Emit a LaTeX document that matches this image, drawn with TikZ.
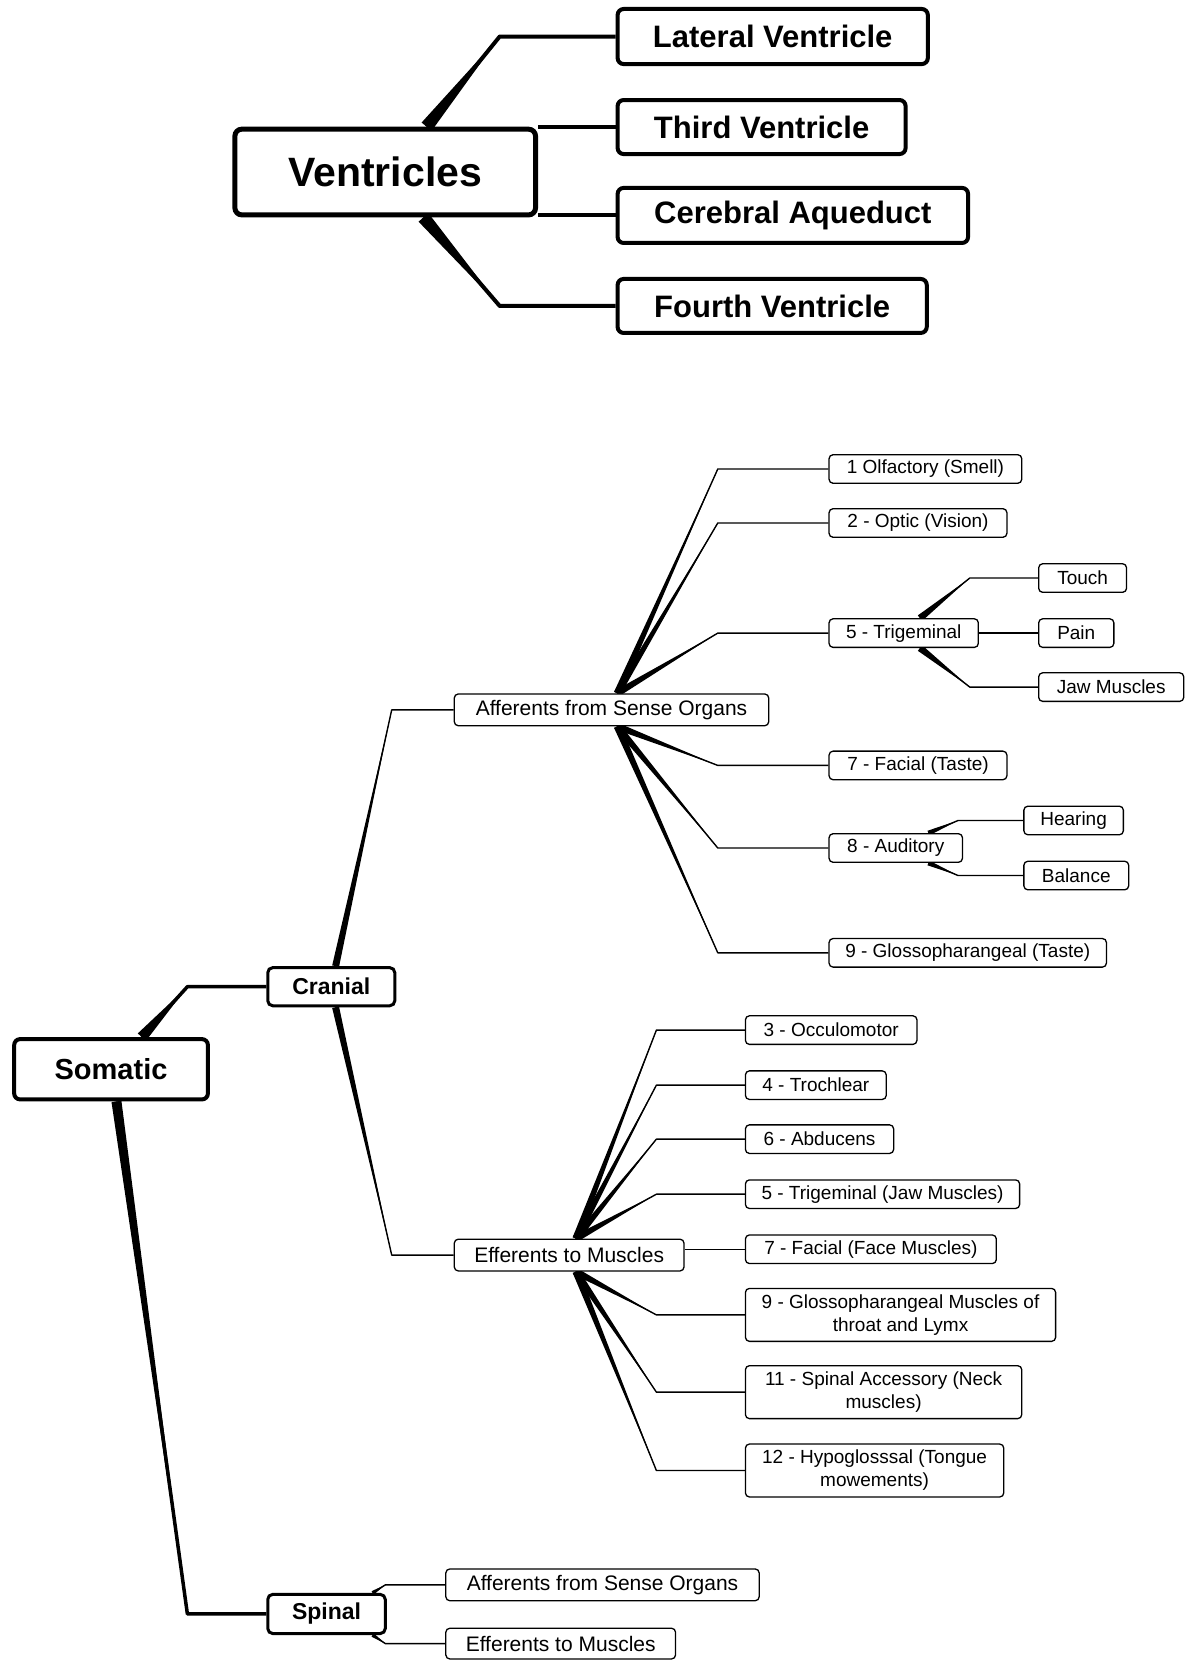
\documentclass[tikz,border=0pt]{standalone}
\usepackage{fontspec}
\setmainfont{Liberation Sans}
\usetikzlibrary{calc}
\newdimen\pxu \pxu=1.0589pt
\pgfdeclarelayer{bg}
\pgfsetlayers{bg,main}
\newcommand\tbranch[5]{%
  \coordinate (tbS) at (#1);
  \coordinate (tbE) at (#2);
  \fill ($(tbS)!#4!90:(tbE)$) -- ($(tbS)!#4!-90:(tbE)$) -- (tbE) -- cycle;
  \draw[#5] (tbS) -- (tbE) -- (#3.west);}
\begin{document}
\begin{tikzpicture}[x=1.0589pt,y=-1.0589pt,
  sz/.style 2 args={minimum width=#1*\pxu, minimum height=#2*\pxu},
  bx/.style={draw, fill=white, inner sep=0pt, anchor=west, align=center},
  lvA/.style={bx, line width=5pt, rounded corners=7pt, font=\bfseries\fontsize{41}{46}\selectfont},
  lvB/.style={bx, line width=4pt, rounded corners=6pt, font=\bfseries\fontsize{31}{36}\selectfont},
  lvS/.style={bx, line width=4pt, rounded corners=6pt, font=\bfseries\fontsize{29}{34}\selectfont},
  lvC/.style={bx, line width=3pt, rounded corners=5pt, font=\bfseries\fontsize{23}{27}\selectfont},
  lvD/.style={bx, line width=1.3pt, rounded corners=4pt, font=\fontsize{21}{25}\selectfont},
  leaf/.style={bx, line width=1.3pt, rounded corners=4pt, font=\fontsize{19}{23}\selectfont},
  cA/.style={line width=4pt, line join=round},
  cS/.style={line width=3.5pt, line join=round},
  cT/.style={line width=1.4pt, line join=round},
]
\begin{pgfonlayer}{bg}
\fill[white] (0,0) rectangle (1121,1568);
\end{pgfonlayer}
\useasboundingbox (0,0) rectangle (1121,1568);

% ---------- Ventricles ----------
\node[lvA, sz={284}{81}] (ven) at (219.5,162.5) {Ventricles};
\node[lvB, sz={293}{52}] (lat) at (581.5,34.5) {Lateral Ventricle};
\node[lvB, sz={272}{51}] (third) at (581.5,120) {Third Ventricle};
\node[lvB, sz={331}{52}] (cer) at (581.5,203.5) {Cerebral Aqueduct};
\node[lvB, sz={292}{51}] (fourth) at (581.5,289) {Fourth Ventricle};

% ---------- Somatic ----------
\node[lvS, sz={183}{57}] (som) at (11.5,1010) {Somatic};
\node[lvC, sz={120}{36}] (cran) at (251.5,932) {Cranial};
\node[lvC, sz={111}{37}] (spin) at (251.5,1524.5) {Spinal};

\node[lvD, sz={297}{30}] (aff) at (428.5,670.5) {Afferents from Sense Organs};
\node[lvD, sz={217}{30}] (eff) at (428.5,1185.5) {Efferents to Muscles};

\node[leaf, sz={182}{27}] (a1) at (782.5,443) {1 Olfactory (Smell)};
\node[leaf, sz={168}{27}] (a2) at (782.5,494) {2 - Optic (Vision)};
\node[leaf, sz={141}{27}] (a5) at (782.5,598) {5 - Trigeminal};
\node[leaf, sz={168}{27}] (a7) at (782.5,723) {7 - Facial (Taste)};
\node[leaf, sz={126}{27}] (a8) at (782.5,801) {8 - Auditory};
\node[leaf, sz={262}{27}] (a9) at (782.5,900) {9 - Glossopharangeal (Taste)};

\node[leaf, sz={83}{27}] (touch) at (980.5,546) {Touch};
\node[leaf, sz={71}{27}] (pain) at (980.5,598) {Pain};
\node[leaf, sz={137}{27}] (jaw) at (980.5,649) {Jaw Muscles};
\node[leaf, sz={94}{27}] (hear) at (966.5,775) {Hearing};
\node[leaf, sz={99}{27}] (bal) at (966.5,827) {Balance};

\node[leaf, sz={162}{27}] (e3) at (703.5,973) {3 - Occulomotor};
\node[leaf, sz={133}{27}] (e4) at (703.5,1025) {4 - Trochlear};
\node[leaf, sz={140}{27}] (e6) at (703.5,1076) {6 - Abducens};
\node[leaf, sz={259}{27}] (e5) at (703.5,1128) {5 - Trigeminal (Jaw Muscles)};
\node[leaf, sz={237}{27}] (e7) at (703.5,1180) {7 - Facial (Face Muscles)};
\node[leaf, sz={293}{50}] (e9) at (703.5,1242) {9 - Glossopharangeal Muscles of\\throat and Lymx};
\node[leaf, sz={261}{50}] (e11) at (703.5,1315) {11 - Spinal Accessory (Neck\\muscles)};
\node[leaf, sz={244}{50}] (e12) at (703.5,1389) {12 - Hypoglosssal (Tongue\\mowements)};

\node[lvD, sz={296}{30}] (s1) at (420.5,1497) {Afferents from Sense Organs};
\node[lvD, sz={217}{29}] (s2) at (420.5,1552.5) {Efferents to Muscles};

% ---------- connectors ----------
\begin{pgfonlayer}{bg}
\tbranch{403,0 |- ven.north}{472,0 |- lat.west}{lat}{6.5pt}{cA}
\draw[cA] (ven.east |- third.west) -- (third.west);
\draw[cA] (ven.east |- cer.west) -- (cer.west);
\tbranch{400,0 |- ven.south}{472,0 |- fourth.west}{fourth}{6.5pt}{cA}

\tbranch{134,0 |- som.north}{177,0 |- cran.west}{cran}{5.5pt}{cS}
\tbranch{110,0 |- som.south}{177,0 |- spin.west}{spin}{5pt}{cS}

\tbranch{317,0 |- cran.north}{370,0 |- aff.west}{aff}{3.5pt}{cT}
\tbranch{317,0 |- cran.south}{370,0 |- eff.west}{eff}{3.5pt}{cT}

\tbranch{583,0 |- aff.north}{678,0 |- a1.west}{a1}{3.5pt}{cT}
\tbranch{583,0 |- aff.north}{678,0 |- a2.west}{a2}{3.5pt}{cT}
\tbranch{583,0 |- aff.north}{678,0 |- a5.west}{a5}{3.5pt}{cT}
\tbranch{583,0 |- aff.south}{678,0 |- a7.west}{a7}{3.5pt}{cT}
\tbranch{583,0 |- aff.south}{678,0 |- a8.west}{a8}{3.5pt}{cT}
\tbranch{583,0 |- aff.south}{678,0 |- a9.west}{a9}{3.5pt}{cT}

\tbranch{869,0 |- a5.north}{916,0 |- touch.west}{touch}{3.5pt}{cT}
\draw[cT] (a5.east) -- (pain.west);
\tbranch{869,0 |- a5.south}{916,0 |- jaw.west}{jaw}{3.5pt}{cT}

\tbranch{877,0 |- a8.north}{905,0 |- hear.west}{hear}{2.5pt}{cT}
\tbranch{877,0 |- a8.south}{905,0 |- bal.west}{bal}{2.5pt}{cT}

\tbranch{544,0 |- eff.north}{620,0 |- e3.west}{e3}{3.5pt}{cT}
\tbranch{544,0 |- eff.north}{620,0 |- e4.west}{e4}{3.5pt}{cT}
\tbranch{544,0 |- eff.north}{620,0 |- e6.west}{e6}{3.5pt}{cT}
\tbranch{544,0 |- eff.north}{620,0 |- e5.west}{e5}{3.5pt}{cT}
\draw[cT] (eff.east |- e7.west) -- (e7.west);
\tbranch{544,0 |- eff.south}{620,0 |- e9.west}{e9}{3.5pt}{cT}
\tbranch{544,0 |- eff.south}{620,0 |- e11.west}{e11}{3.5pt}{cT}
\tbranch{544,0 |- eff.south}{620,0 |- e12.west}{e12}{3.5pt}{cT}

\tbranch{352,0 |- spin.north}{364,0 |- s1.west}{s1}{2pt}{cT}
\tbranch{352,0 |- spin.south}{364,0 |- s2.west}{s2}{2pt}{cT}
\end{pgfonlayer}
\end{tikzpicture}
\end{document}
